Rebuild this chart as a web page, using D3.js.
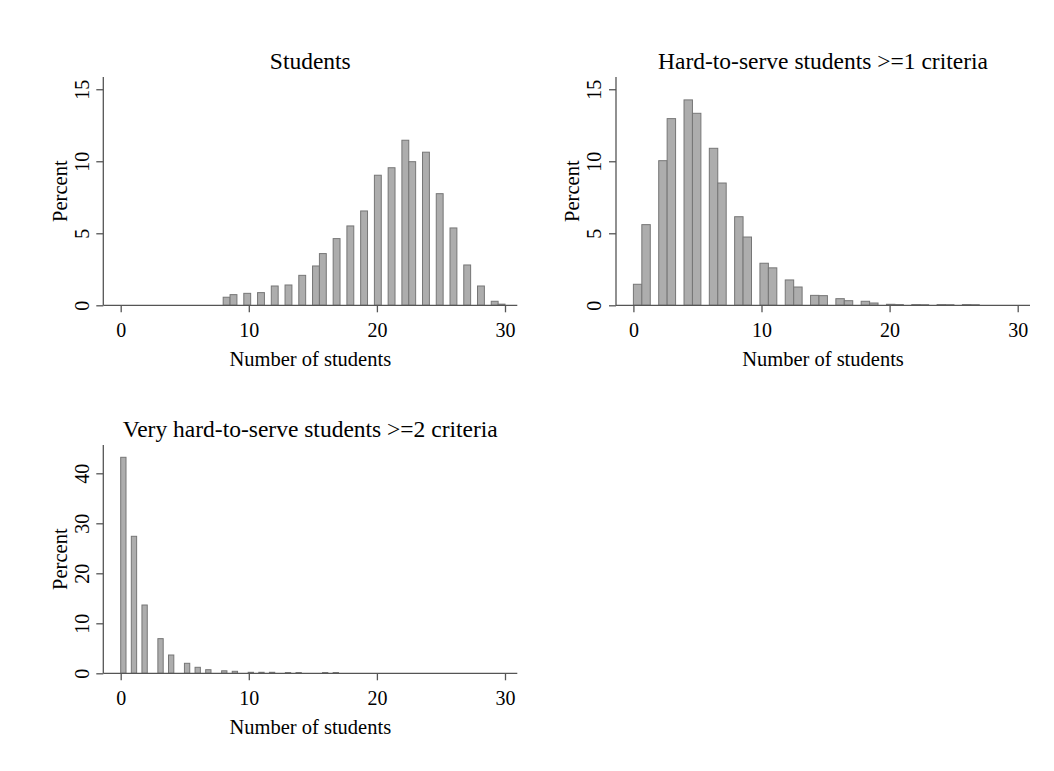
<!DOCTYPE html>
<head>
    <meta charset="utf-8">
    <style>
        body { margin: 0; background: #fff; }
        svg text { font-family: "Liberation Serif", "Times New Roman", serif; fill: #000; }
        .bar { fill: #adadad; stroke: #767676; stroke-width: 1; }
        .axis line, .axis-line { stroke: #555; stroke-width: 1.3; }
    </style>
</head>
<svg width="1054" height="771" class="hist"></svg>
<script src="https://cdn.jsdelivr.net/npm/d3@7/dist/d3.min.js"></script>
<script>
    // number of students per class, and percent of classes with that number
    var sizes1 = [8, 9, 10, 11, 12, 13, 14, 15, 16, 17, 18, 19, 20, 21, 22, 23, 24, 25, 26, 27, 28, 29, 30];
    var percent1 = [0.56, 0.74, 0.83, 0.88, 1.34, 1.41, 2.08, 2.73, 3.59, 4.63, 5.51, 6.55, 9.03, 9.55,
                    11.46, 9.97, 10.63, 7.75, 5.37, 2.80, 1.34, 0.28, 0.08];

    var sizes2 = [0, 1, 2, 3, 4, 5, 6, 7, 8, 9, 10, 11, 12, 13, 14, 15, 16, 17, 18, 19, 20, 21, 22, 23, 24, 25, 26, 27];
    var percent2 = [1.46, 5.6, 10.04, 12.96, 14.26, 13.33, 10.9, 8.49, 6.15, 4.74, 2.92, 2.6, 1.76, 1.27,
                    0.69, 0.67, 0.46, 0.32, 0.28, 0.16, 0.07, 0.05, 0.05, 0.04, 0.05, 0.04, 0.05, 0.04];

    var sizes3 = [0, 1, 2, 3, 4, 5, 6, 7, 8, 9, 10, 11, 12, 13, 14, 16, 17];
    var percent3 = [43.2, 27.4, 13.66, 6.93, 3.66, 2.0, 1.2, 0.72, 0.5, 0.4, 0.2, 0.2, 0.2, 0.15, 0.15, 0.15, 0.15];

    var titles = ["Students", "Hard-to-serve students >=1 criteria", "Very hard-to-serve students >=2 criteria"];
    var xTicks = [0, 10, 20, 30];
    var yTicks1 = [0, 5, 10, 15];
    var yTicks3 = [0, 10, 20, 30, 40];
    var nBins = 41;

    var svg = d3.select(".hist");

    function panel(o) {
        var width = 414, height = 228.3;
        var g = svg.append("g")
                .attr("transform", "translate(" + o.left + "," + o.top + ")");

        var x = d3.scaleLinear().domain([0, 30]).range([17.4, 401.7]),
            y = d3.scaleLinear().domain([0, o.yMax]).range([height, 0]);

        // stata-style bins: nBins equal bins over the data range
        var ext = d3.extent(o.sizes), bw = (ext[1] - ext[0]) / nBins;
        var bins = o.sizes.map(function(v, i) {
            var k = Math.min(nBins - 1, Math.floor((v - ext[0]) / bw + 1e-9));
            return {x0: ext[0] + k * bw, x1: ext[0] + (k + 1) * bw, p: o.percent[i]};
        });

        g.selectAll(".bar")
                .data(bins)
                .enter().append("rect")
                .attr("class", "bar")
                .attr("x", function(d) { return x(d.x0); })
                .attr("y", function(d) { return y(d.p); })
                .attr("width", function(d) { return x(d.x1) - x(d.x0); })
                .attr("height", function(d) { return height - y(d.p); });

        var xa = g.append("g")
                .attr("class", "axis")
                .attr("transform", "translate(0," + height + ")")
                .call(d3.axisBottom(x).tickValues(xTicks).tickSize(7));
        xa.select(".domain").remove();
        xa.selectAll("text").attr("y", 32).attr("dy", null).style("font-size", "20px");

        var ya = g.append("g")
                .attr("class", "axis")
                .call(d3.axisLeft(y).tickValues(o.yTicks).tickSize(7));
        ya.select(".domain").remove();
        ya.selectAll("text")
                .attr("transform", "rotate(-90)")
                .attr("x", 0).attr("y", -14.7).attr("dy", null)
                .attr("text-anchor", "middle")
                .style("font-size", "20px");

        g.append("line").attr("class", "axis-line")
                .attr("x1", 0).attr("x2", 0).attr("y1", 0).attr("y2", height);
        g.append("line").attr("class", "axis-line")
                .attr("x1", 0).attr("x2", width).attr("y1", height).attr("y2", height);

        g.append("text")
                .attr("x", width / 2).attr("y", -8)
                .attr("text-anchor", "middle")
                .style("font-size", "23.5px")
                .text(o.title);

        g.append("text")
                .attr("x", width / 2).attr("y", height + 61)
                .attr("text-anchor", "middle")
                .style("font-size", "20.5px")
                .text("Number of students");

        g.append("text")
                .attr("transform", "translate(-36.6," + height / 2 + ") rotate(-90)")
                .attr("text-anchor", "middle")
                .style("font-size", "20.5px")
                .text("Percent");
    }

    panel({left: 103.3, top: 77, sizes: sizes1, percent: percent1, yMax: 15.85, yTicks: yTicks1, title: titles[0]});
    panel({left: 616, top: 77, sizes: sizes2, percent: percent2, yMax: 15.85, yTicks: yTicks1, title: titles[1]});
    panel({left: 103.3, top: 445, sizes: sizes3, percent: percent3, yMax: 45.66, yTicks: yTicks3, title: titles[2]});
</script>
